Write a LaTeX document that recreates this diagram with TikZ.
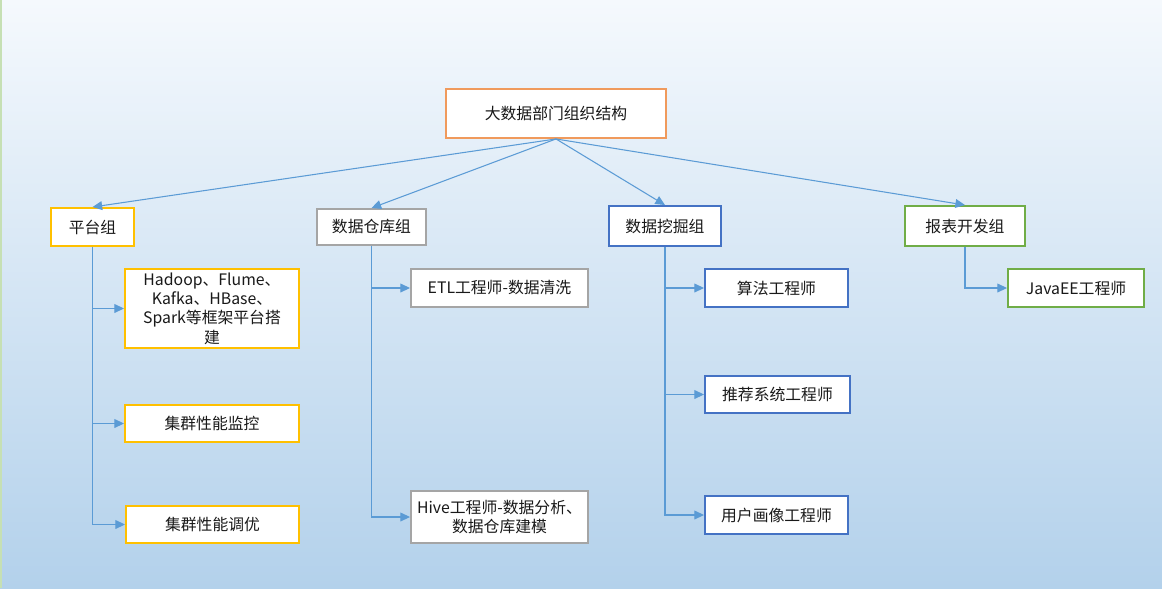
\documentclass[tikz,border=0pt]{standalone}
\usepackage{fontspec}
\setmainfont{Noto Sans CJK SC}
\usetikzlibrary{arrows.meta}

\definecolor{bgtop}{HTML}{F5F9FD}
\definecolor{bgbot}{HTML}{B3D1EB}
\definecolor{edgeleft}{HTML}{C6E0B4}
\definecolor{linkblue}{HTML}{5B9BD5}
\definecolor{orangeb}{HTML}{F09A5C}
\definecolor{goldb}{HTML}{FFC000}
\definecolor{grayb}{HTML}{A5A5A5}
\definecolor{blueb}{HTML}{4472C4}
\definecolor{greenb}{HTML}{70AD47}

\begin{document}
\begin{tikzpicture}[x=0.02cm, y=-0.02cm,
  box/.style={draw, line width=1.1pt, fill=white, align=center, inner sep=0pt,
    font=\fontsize{9}{11}\selectfont, text=black!90},
  arr/.style={draw=linkblue, line width=0.6pt, -{Triangle[length=5.5pt,width=5pt]}}]
%\draw [help lines] (0,0) grid (1162,588);

\shade [top color=bgtop, bottom color=bgbot] (0,0) rectangle (1162,588);
\useasboundingbox (0,0) rectangle (1162,588);
\draw [edgeleft, line width=1pt] (0.8,0) -- (0.8,588);

% top
\node [box, draw=orangeb, minimum width=4.4cm, minimum height=0.98cm] (dept) at (556,113.5) {大数据部门组织结构};

% groups
\node [box, draw=goldb, minimum width=1.66cm, minimum height=0.76cm] (pt) at (92.5,227) {平台组};
\node [box, draw=grayb, minimum width=2.18cm, minimum height=0.72cm] (ck) at (371.5,227) {数据仓库组};
\node [box, draw=blueb, minimum width=2.24cm, minimum height=0.8cm] (wj) at (665,226) {数据挖掘组};
\node [box, draw=greenb, minimum width=2.4cm, minimum height=0.8cm] (bb) at (965,226) {报表开发组};

% platform
\node [box, draw=goldb, minimum width=3.48cm, minimum height=1.58cm] (hadoop) at (212,308.5) {Hadoop、Flume、\\Kafka、HBase、\\Spark等框架平台搭\\建};
\node [box, draw=goldb, minimum width=3.48cm, minimum height=0.74cm] (jk) at (212,423.5) {集群性能监控};
\node [box, draw=goldb, minimum width=3.46cm, minimum height=0.74cm] (ty) at (212.5,524.5) {集群性能调优};

% warehouse
\node [box, draw=grayb, minimum width=3.54cm, minimum height=0.76cm] (etl) at (499.5,288) {ETL工程师-数据清洗};
\node [box, draw=grayb, minimum width=3.54cm, minimum height=1.04cm] (hive) at (499.5,517) {Hive工程师-数据分析、\\数据仓库建模};

% mining
\node [box, draw=blueb, minimum width=2.86cm, minimum height=0.76cm] (sf) at (776.5,288) {算法工程师};
\node [box, draw=blueb, minimum width=2.9cm, minimum height=0.74cm] (tj) at (777.5,394.5) {推荐系统工程师};
\node [box, draw=blueb, minimum width=2.86cm, minimum height=0.76cm] (hx) at (776.5,515) {用户画像工程师};

% report
\node [box, draw=greenb, minimum width=2.72cm, minimum height=0.76cm] (javaee) at (1076,288) {JavaEE工程师};

\draw [arr] (dept.south) -- (pt.north);
\draw [arr] (dept.south) -- (ck.north);
\draw [arr] (dept.south) -- (wj.north);
\draw [arr] (dept.south) -- (bb.north);

\draw [arr] (pt.south) |- (hadoop.west);
\draw [arr] (pt.south) |- (jk.west);
\draw [arr] (pt.south) |- (ty.west);

\draw [arr] (ck.south) |- (etl.west);
\draw [arr] (ck.south) |- (hive.west);

\draw [arr] (wj.south) |- (sf.west);
\draw [arr] (wj.south) |- (tj.west);
\draw [arr] (wj.south) |- (hx.west);

\draw [arr] (bb.south) |- (javaee.west);

\end{tikzpicture}
\end{document}
